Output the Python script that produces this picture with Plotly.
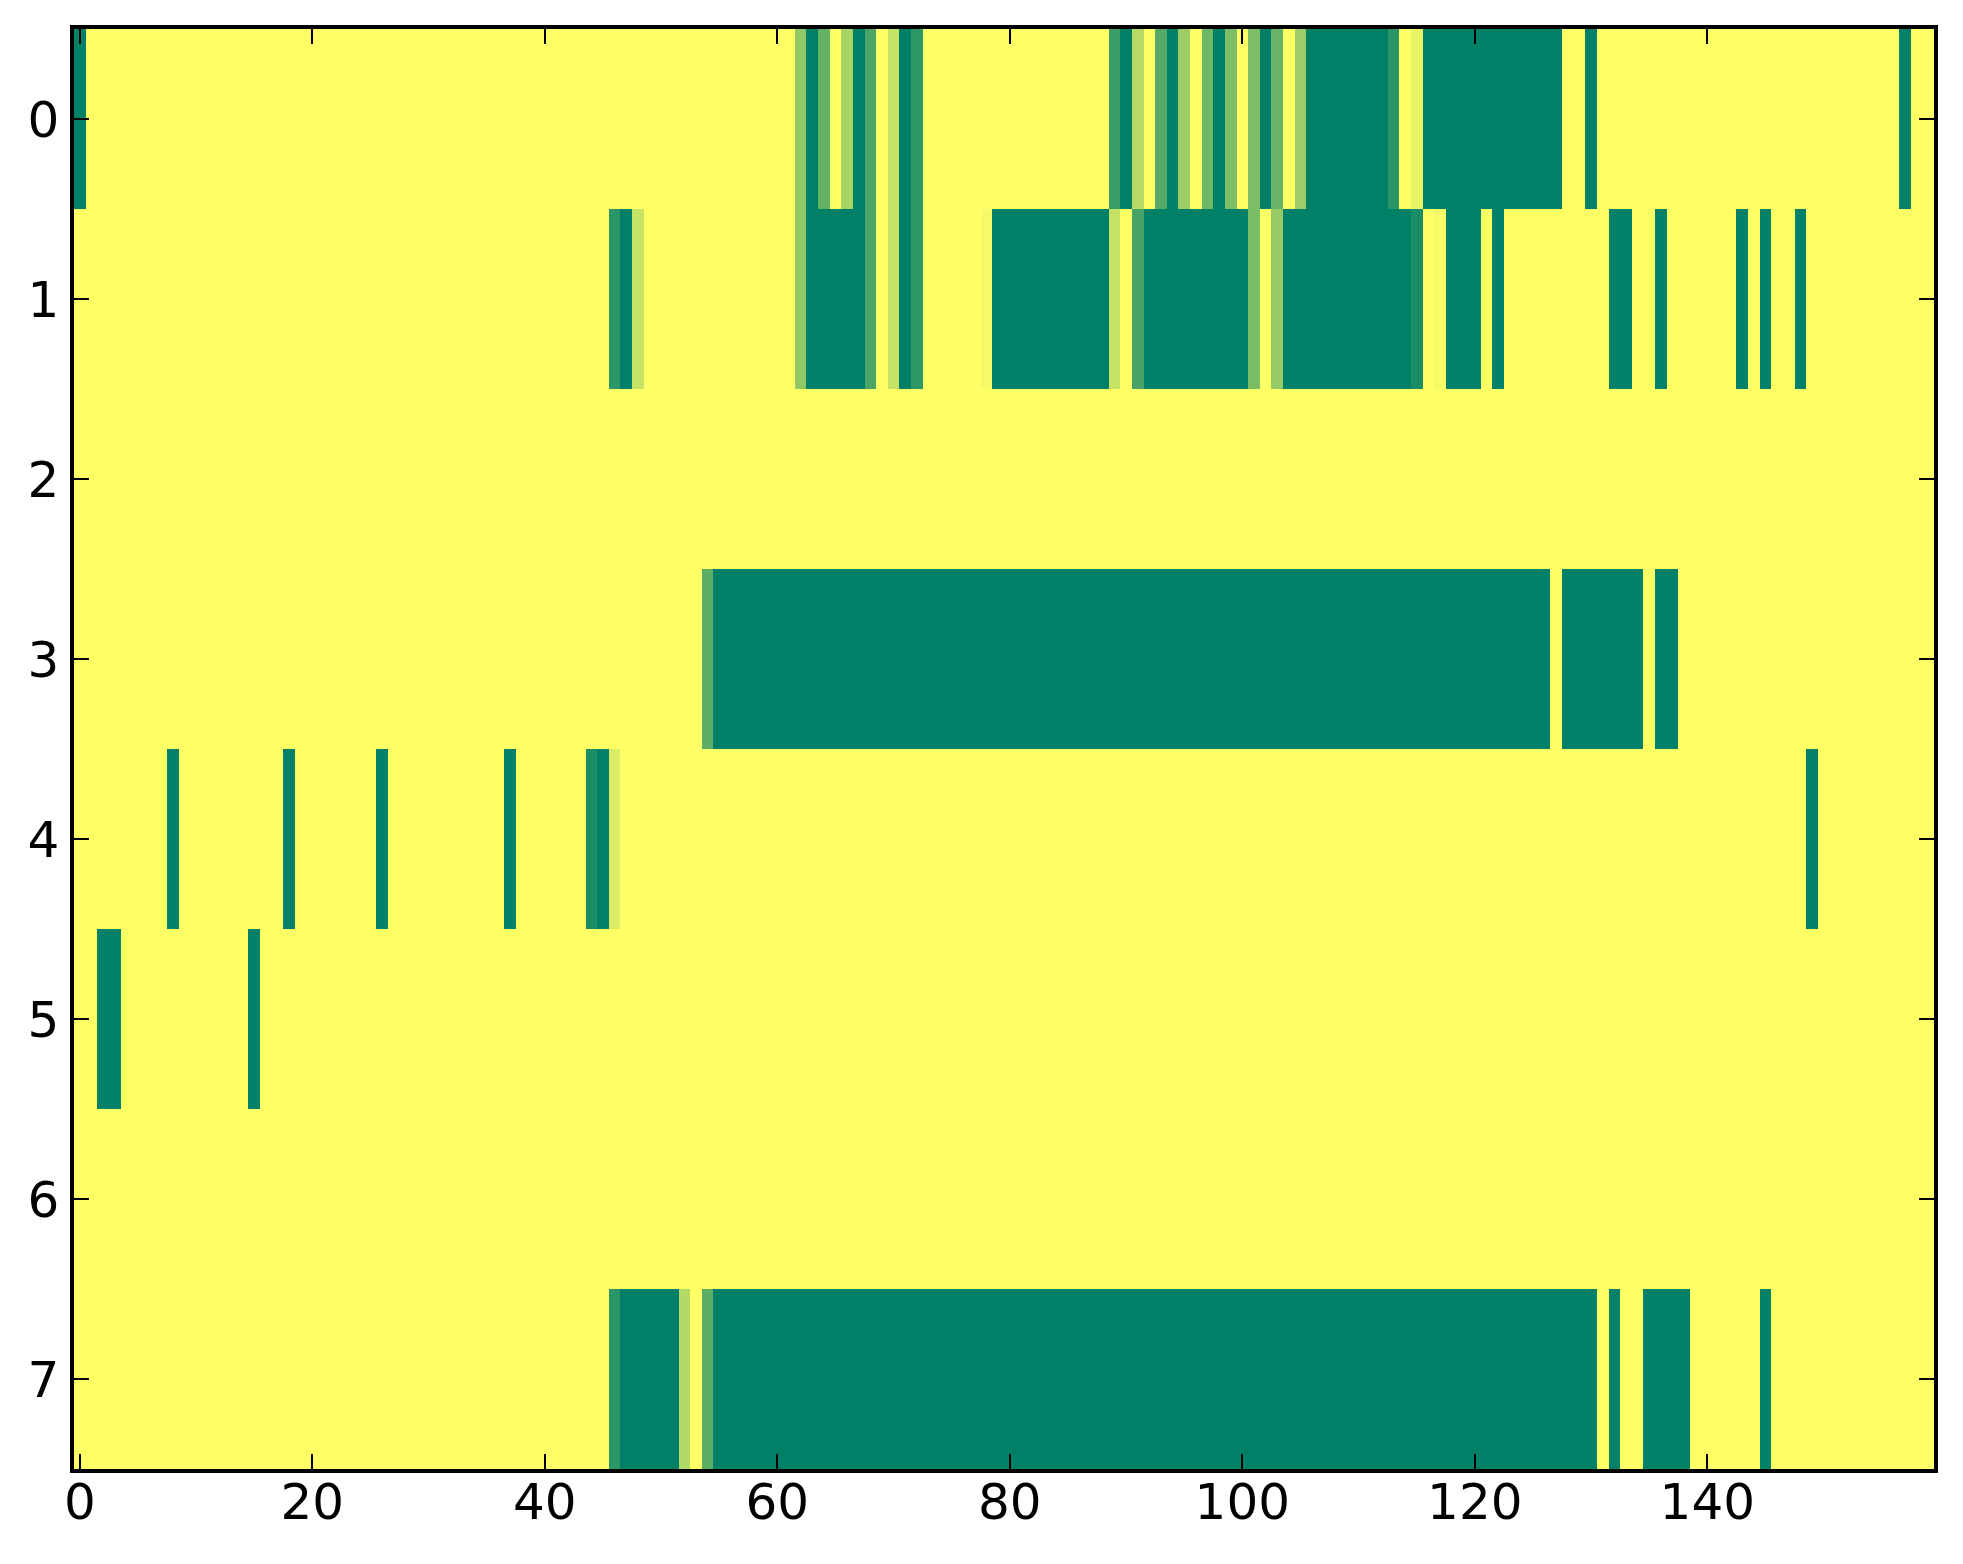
import plotly.graph_objects as go

# one list per row, 160 cells each (columns 0..159), values 0..1
row_0 = ([0] + [1] * 61
         + [0.57, 0, 0.39, 1, 0.66, 0, 0.29, 1, 0.77, 0, 0.18]
         + [1] * 16
         + [0.23, 0, 0.72, 1, 0.33, 0, 0.61, 1, 0.43, 0, 0.49, 1, 0.49, 0, 0.41, 1, 0.61]
         + [0] * 7 + [0.16, 1, 0.91] + [0] * 12 + [1, 1, 0] + [1] * 26 + [0, 1, 1])
row_1 = ([1] * 46 + [0.17, 0, 0.78] + [1] * 13 + [0.57] + [0] * 5
         + [0.29, 1, 0.77, 0, 0.18] + [1] * 5 + [0.96] + [0] * 10
         + [0.77, 1, 0.28] + [0] * 9 + [0.47, 1, 0.59] + [0] * 11
         + [0.10, 1, 0.96] + [0] * 3 + [1, 0] + [1] * 9 + [0, 0, 1, 1, 0]
         + [1] * 6 + [0, 1, 0, 1, 1, 0] + [1] * 11)
row_2 = [1] * 160
row_3 = [1] * 54 + [0.36] + [0] * 72 + [1] + [0] * 7 + [1] + [0, 0] + [1] * 22
row_4 = ([1] * 8 + [0] + [1] * 9 + [0] + [1] * 7 + [0] + [1] * 10 + [0] + [1] * 6
         + [0.10, 0, 0.86] + [1] * 102 + [0] + [1] * 10)
row_5 = [1, 1, 0, 0] + [1] * 11 + [0] + [1] * 144
row_6 = [1] * 160
row_7 = ([1] * 46 + [0.17] + [0] * 5 + [0.70, 1, 0.36] + [0] * 76
         + [1, 0, 1, 1] + [0] * 4 + [1] * 6 + [0] + [1] * 14)

z = [row_0, row_1, row_2, row_3, row_4, row_5, row_6, row_7]

x_ticks = [0, 20, 40, 60, 80, 100, 120, 140]
y_ticks = [0, 1, 2, 3, 4, 5, 6, 7]

# matplotlib "summer"
summer = [[0, "rgb(0,128,102)"], [1, "rgb(255,255,102)"]]

fig = go.Figure(go.Heatmap(
    z=z,
    colorscale=summer,
    zmin=0, zmax=1,
    zsmooth=False,
    showscale=False,
    hoverinfo="skip",
))

axis_style = dict(
    showline=True, linewidth=3.5, linecolor="black", mirror="ticks",
    ticks="inside", ticklen=15, tickwidth=1.5, tickcolor="black",
    showgrid=False, zeroline=False,
    tickfont=dict(family="DejaVu Sans", size=50, color="black"),
)

fig.update_xaxes(range=[-0.5, 159.5], tickvals=x_ticks, ticklabelstandoff=-14, **axis_style)
fig.update_yaxes(range=[7.5, -0.5], tickvals=y_ticks, ticklabelstandoff=1, **axis_style)

fig.update_layout(
    width=1963, height=1564,
    margin=dict(l=74, r=29, t=29, b=95),
    paper_bgcolor="white",
    plot_bgcolor="white",
)

fig.write_html("out.html", config={"displayModeBar": False},
               post_script="document.body.style.margin='0';")
